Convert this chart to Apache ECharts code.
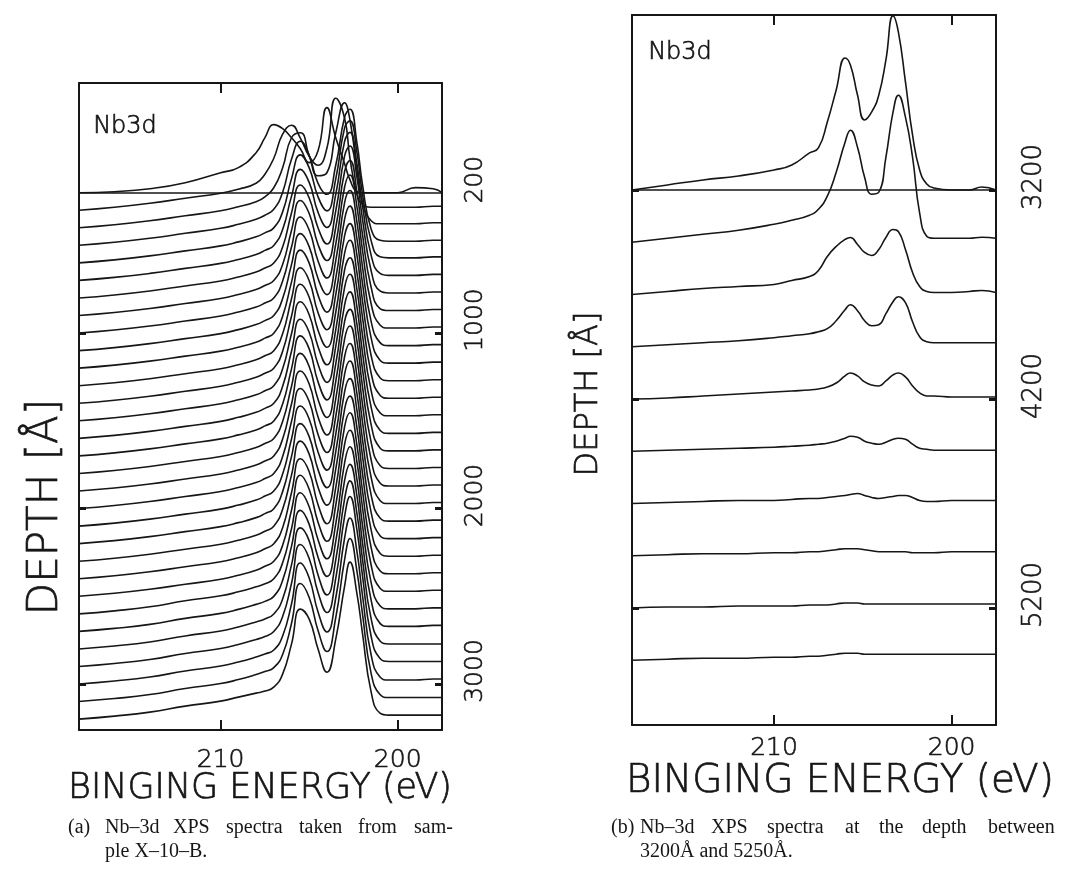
<!DOCTYPE html>
<html><head><meta charset="utf-8">
<script src="https://cdn.jsdelivr.net/npm/echarts@6/dist/echarts.min.js"></script>
<style>html,body{margin:0;padding:0;background:#fff}#c{width:1067px;height:877px}</style>
</head><body><div id="c"></div>
<script>
// ---------- Panel (a): Nb-3d spectra, depth 200..3200 Å ----------
const energyA = [218, 216, 214, 212, 210, 209, 208, 207.5, 207, 206.5, 206, 205.5, 205, 204.5, 204, 203.5, 203, 202.7, 202.3, 202, 201.5, 201, 200.5, 200, 199, 198, 197.5];
const depthA = [200, 300, 400, 500, 600, 700, 800, 900, 1000, 1100, 1200, 1300, 1400, 1500, 1600, 1700, 1800, 1900, 2000, 2100, 2200, 2300, 2400, 2500, 2600, 2700, 2800, 2900, 3000, 3100, 3200];
const s200  = [0,1,4,10,20,25,40,55,68,64,55,44,30,42,85,55,29,13,1,0,0,0,0,0,5,4,0];
const s300  = [0,3,7,12,17,21,27,36,52,76,85,72,54,45,62,112,92,52,16,6,3,3,3,3,3,4,4];
const s400  = [0,3,7,12,17,21,26,31,40,60,90,95,72,52,55,95,125,108,58,26,7,4,4,4,4,5,5];
const s500  = [0,3,7,12,17,21,26,30,36,53,86,104,90,62,51,80,128,136,102,62,16,5,4,4,4,5,5];
const s600  = [0,3,7,12,17,21,26,30,35,51,84,108,95,66,52,84,135,142,110,70,22,6,5,5,5,6,6];
const s700  = [0,3,7,12,17,21,26,30,35,51,84,111,98,68,53,86,139,148,116,76,25,7,5,5,5,6,6];
const s800  = [0,3,7,12,17,21,26,30,35,51,85,113,100,70,54,87,142,152,120,80,27,7,5,5,5,6,6];
const s900  = [0,3,7,12,17,21,26,30,35,51,85,115,102,71,55,88,144,155,123,82,28,7,5,5,5,6,6];
const s1000 = [0,3,7,12,17,21,26,30,35,52,86,116,103,72,55,89,146,158,126,84,29,8,5,5,5,6,6];
const s1100 = [0,3,7,12,17,21,26,30,35,52,86,117,104,72,56,90,148,160,128,85,29,8,5,5,5,6,6];
const s1200 = [0,3,7,12,17,21,26,30,35,52,86,118,105,73,56,90,149,162,129,86,30,8,5,5,5,6,6];
const s1300 = [0,3,7,12,17,21,26,30,35,52,87,118,105,73,56,91,150,162,130,86,30,8,5,5,5,6,6];
const s1400 = [0,3,7,12,17,21,26,30,35,52,87,119,106,73,56,91,150,163,130,87,30,8,5,5,5,6,6];
const s1500 = [0,3,7,12,17,21,26,30,35,52,87,119,106,74,56,91,151,163,131,87,30,8,5,5,5,6,6];
const s1600 = [0,3,7,12,17,21,26,30,35,52,87,119,106,74,56,92,151,164,131,87,31,8,5,5,5,6,6];
const s1700 = [0,3,7,12,17,21,26,30,35,52,87,120,107,74,56,92,151,164,131,88,31,8,5,5,5,6,6];
const s1800 = [0,3,7,12,17,21,26,30,35,52,87,120,107,74,56,92,152,164,132,88,31,8,5,5,5,6,6];
const s1900 = [0,3,7,12,17,21,26,30,35,52,87,120,107,74,56,92,152,165,132,88,31,8,5,5,5,6,6];
const s2000 = [0,3,7,12,17,21,26,30,35,52,87,120,107,74,56,92,152,165,132,88,31,8,5,5,5,6,6];
const s2100 = [0,3,7,12,17,21,26,30,35,52,87,120,107,74,56,92,152,165,132,88,31,8,5,5,5,6,6];
const s2200 = [0,3,7,12,17,21,26,30,35,52,87,120,107,74,56,92,152,165,133,89,31,8,5,5,5,6,6];
const s2300 = [0,3,7,12,17,21,26,30,35,52,86,120,107,74,56,92,152,165,133,89,31,8,5,5,5,6,6];
const s2400 = [0,3,7,12,17,21,26,30,35,51,86,120,107,74,55,91,152,166,133,89,31,8,5,5,5,6,6];
const s2500 = [0,3,7,12,17,21,26,30,35,51,86,121,107,74,55,91,152,166,134,90,31,8,5,5,5,6,6];
const s2600 = [0,3,7,13,18,22,27,30,35,51,85,121,107,74,55,90,151,167,134,90,31,8,5,5,5,6,6];
const s2700 = [0,3,7,13,18,22,27,30,35,51,85,121,107,74,55,90,151,167,135,90,31,8,5,5,5,6,6];
const s2800 = [0,3,7,13,18,22,27,30,35,50,84,121,108,74,54,89,150,168,135,91,30,8,5,5,5,5,5];
const s2900 = [0,3,7,13,18,22,27,30,35,50,83,122,108,74,54,88,150,170,136,92,30,8,5,5,5,5,5];
const s3000 = [0,3,7,13,18,22,27,30,34,48,80,121,106,72,52,86,146,166,132,90,29,7,4,4,4,5,5];
const s3100 = [0,3,7,13,18,22,27,30,34,47,78,118,104,71,50,84,142,163,130,89,28,7,4,4,4,4,4];
const s3200 = [0,3,7,13,18,22,26,28,32,45,75,110,100,70,47,80,133,157,125,87,27,6,4,4,4,4,4];
const spectraA = [s200,s300,s400,s500,s600,s700,s800,s900,s1000,s1100,s1200,s1300,s1400,s1500,s1600,s1700,s1800,s1900,s2000,s2100,s2200,s2300,s2400,s2500,s2600,s2700,s2800,s2900,s3000,s3100,s3200];
const depthLabelsA = [200, 1000, 2000, 3000];
const depthTicksA = [1000, 2000, 3000];

// ---------- Panel (b): Nb-3d spectra, depth 3200..5450 Å ----------
const energyB = [218, 216, 214, 212, 210, 209, 208, 207.5, 207, 206.5, 206, 205.7, 205.3, 204.9, 204.5, 204.1, 203.7, 203.3, 203, 202.6, 202.2, 201.8, 201.4, 201, 200, 199, 198.3, 197.5];
const depthB = [3200, 3450, 3700, 3950, 4200, 4450, 4700, 4950, 5200, 5450];
const r3200 = [0,5,10,14,20,25,37,42,68,100,132,125,95,70,78,95,130,174,158,108,55,20,6,2,0,0,3,0];
const r3450 = [0,4,8,12,18,22,27,33,46,70,100,112,95,65,48,50,85,130,147,125,85,29,6,4,4,4,5,4];
const r3700 = [0,3,6,8,10,14,18,24,38,48,55,57,50,42,39,45,57,65,63,45,22,8,3,2,2,3,4,2];
const r3950 = [0,2,4,6,9,11,13,15,18,26,37,42,36,26,21,22,33,45,50,44,25,10,5,4,4,4,4,4];
const r4200 = [0,1,3,5,7,8,9,10,12,16,23,26,23,17,14,13,18,24,26,22,13,6,3,3,2,2,2,2];
const r4450 = [0,1,2,3,4,5,6,7,8,10,13,15,14,10,8,7,9,12,13,12,7,3,2,1,1,1,1,1];
const r4700 = [0,1,2,3,3,4,5,5,6,7,8,9,10,8,6,5,6,7,8,8,6,3,2,2,3,3,3,3];
const r4950 = [0,1,2,2,3,3,4,4,5,6,7,7,7,6,5,4,4,4,4,4,3,3,3,3,4,4,4,4];
const r5200 = [0,1,1,2,2,2,3,3,3,4,5,5,5,4,4,4,4,4,4,4,4,4,4,4,4,4,4,4];
const r5450 = [0,1,2,2,3,3,4,4,5,6,7,7,7,6,6,6,6,6,6,6,6,6,6,6,6,6,6,6];
const spectraB = [r3200,r3450,r3700,r3950,r4200,r4450,r4700,r4950,r5200,r5450];
const depthLabelsB = [3200, 4200, 5200];
const depthTicksB = [3200, 4200, 5200];

const energyTicks = [200, 210];

// intensity (a.u.) -> depth offset (Å) used for the stacked display
const OFFSET_A = 5.7;
const OFFSET_B = 4.785;

const INK = '#161616';
const SANS = "'DejaVu Sans ExtraLight', 'DejaVu Sans', sans-serif";
const SERIF = "'Liberation Serif', 'DejaVu Serif', serif";
const plain = function (v) { return String(v); };

function xAxes(grid, labelMargin) {
  const base = {
    gridIndex: grid, type: 'value', min: 197.5, max: 218, inverse: true,
    splitLine: { show: false },
    axisLine: { show: true, onZero: false, lineStyle: { color: INK, width: 2 } },
    axisTick: { show: true, inside: true, length: 10, customValues: energyTicks, lineStyle: { color: INK, width: 2 } }
  };
  return [
    Object.assign({}, base, { position: 'bottom',
      axisLabel: { show: true, customValues: energyTicks, formatter: plain, color: INK, fontFamily: SANS, fontWeight: 200, fontSize: 25, margin: labelMargin, textBorderColor: INK, textBorderWidth: 0.6 } }),
    Object.assign({}, base, { position: 'top', axisLabel: { show: false } })
  ];
}
function yAxes(grid, min, max, ticks, labels, fontSize, margin) {
  const base = {
    gridIndex: grid, type: 'value', min: min, max: max, inverse: true,
    splitLine: { show: false },
    axisLine: { show: true, onZero: false, lineStyle: { color: INK, width: 2 } },
    axisTick: { show: true, inside: true, length: 7, customValues: ticks, lineStyle: { color: INK, width: 3 } }
  };
  return [
    Object.assign({}, base, { position: 'left', axisLabel: { show: false } }),
    Object.assign({}, base, { position: 'right',
      axisLabel: { show: true, customValues: labels, formatter: plain, rotate: 90, color: INK, fontFamily: SANS, fontWeight: 200, fontSize: fontSize, margin: margin, padding: [0, 0, 0, 26], textBorderColor: INK, textBorderWidth: 0.6 } })
  ];
}

const series = [];
spectraA.forEach(function (row, i) {
  const s = {
    type: 'line', xAxisIndex: 0, yAxisIndex: 0, silent: true, animation: false,
    smooth: 0.5, showSymbol: false, symbol: 'none',
    lineStyle: { color: INK, width: 1.6 },
    data: row.map(function (v, j) { return [energyA[j], depthA[i] - v * OFFSET_A]; })
  };
  if (i === 0) {
    s.markLine = { silent: true, symbol: 'none', animation: false, label: { show: false },
      lineStyle: { color: INK, width: 1.6, type: 'solid' }, data: [{ yAxis: depthA[0] }] };
  }
  series.push(s);
});
spectraB.forEach(function (row, i) {
  const s = {
    type: 'line', xAxisIndex: 2, yAxisIndex: 2, silent: true, animation: false,
    smooth: 0.5, showSymbol: false, symbol: 'none',
    lineStyle: { color: INK, width: 1.6 },
    data: row.map(function (v, j) { return [energyB[j], depthB[i] - v * OFFSET_B]; })
  };
  if (i === 0) {
    s.markLine = { silent: true, symbol: 'none', animation: false, label: { show: false },
      lineStyle: { color: INK, width: 1.6, type: 'solid' }, data: [{ yAxis: depthB[0] }] };
  }
  series.push(s);
});

function txt(x, y, text, size, family, extra) {
  return Object.assign({ type: 'text', x: x, y: y, silent: true,
    style: { text: text, fontSize: size, fontFamily: family, fill: INK, align: 'left', verticalAlign: 'middle' } }, extra || {});
}
function big(x, y, text, size, rot) {
  return { type: 'text', x: x, y: y, rotation: rot || 0, silent: true,
    style: { text: text, fontSize: size, fontFamily: SANS, fontWeight: 200, fill: INK, stroke: INK, lineWidth: 0.7, align: 'center', verticalAlign: 'middle' } };
}

const graphics = [
  big(125, 127, 'Nb3d', 24),
  big(680, 53, 'Nb3d', 24),
  big(46, 507, 'DEPTH [Å]', 42, Math.PI / 2),
  big(589, 394, 'DEPTH [Å]', 32, Math.PI / 2),
  big(260, 789, 'BINGING ENERGY (eV)', 35),
  big(840, 782, 'BINGING ENERGY (eV)', 39),
  // caption (a)
  txt(68, 828, '(a)', 20, SERIF),
  txt(105, 828, 'Nb–3d', 20, SERIF), txt(173, 828, 'XPS', 20, SERIF), txt(226, 828, 'spectra', 20, SERIF),
  txt(299, 828, 'taken', 20, SERIF), txt(358, 828, 'from', 20, SERIF), txt(414, 828, 'sam-', 20, SERIF),
  txt(105, 852, 'ple X–10–B.', 20, SERIF),
  // caption (b)
  txt(611, 828, '(b)', 20, SERIF),
  txt(640, 828, 'Nb–3d', 20, SERIF), txt(711, 828, 'XPS', 20, SERIF), txt(767, 828, 'spectra', 20, SERIF),
  txt(845, 828, 'at', 20, SERIF), txt(879, 828, 'the', 20, SERIF), txt(922, 828, 'depth', 20, SERIF),
  txt(988, 828, 'between', 20, SERIF),
  txt(640, 852, '3200Å and 5250Å.', 20, SERIF)
];

const option = {
  backgroundColor: '#ffffff',
  animation: false,
  grid: [
    { left: 79, top: 83, width: 363, height: 647, outerBoundsMode: 'none', containLabel: false },
    { left: 632, top: 15, width: 364, height: 710, outerBoundsMode: 'none', containLabel: false }
  ],
  xAxis: xAxes(0, 18).concat(xAxes(1, 11)),
  yAxis: yAxes(0, -425, 3262, depthTicksA, depthLabelsA, 25, 21)
    .concat(yAxes(1, 2363, 5760, depthTicksB, depthLabelsB, 26, 25)),
  series: series,
  graphic: graphics
};

const chart = echarts.init(document.getElementById('c'), null, { renderer: 'canvas' });
chart.setOption(option);
</script>
</body></html>
